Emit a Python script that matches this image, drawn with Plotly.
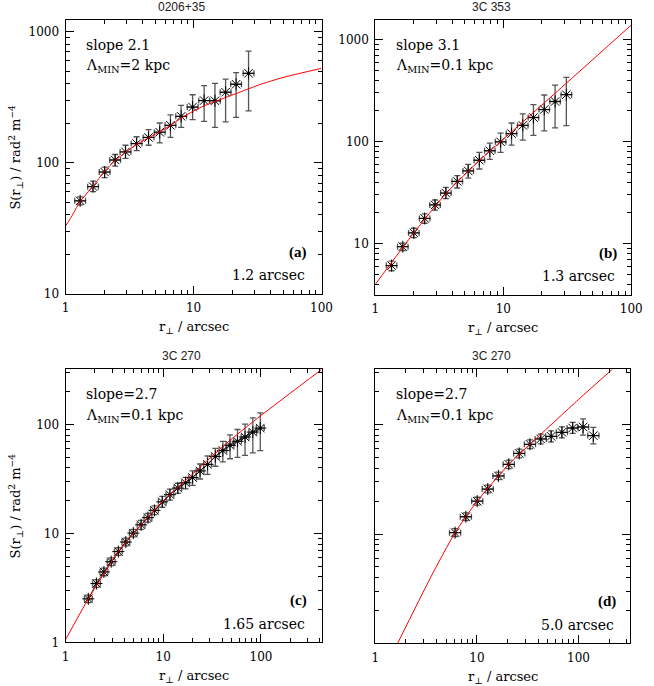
import math
import plotly.graph_objects as go

W, H = 654, 686

# ---------------- data ----------------
# (a) 0206+35
r_a = [1.30, 1.64, 2.02, 2.44, 2.94, 3.59, 4.45, 5.44, 6.6, 8.0, 9.83, 12.1, 14.7, 17.8, 21.5, 26.9]
S_a = [51.3, 65.8, 85, 105, 121, 140, 156, 171, 193, 226, 266, 298, 297, 345, 397, 481]
S_a_hi = [55, 72.6, 92.7, 115.7, 136, 158, 179, 201, 232, 274, 330, 388, 403, 435, 486, 710]
S_a_lo = [47.8, 60.3, 77, 94.4, 108, 124, 136, 142, 156, 186, 213, 207, 186, 205, 222, 249]
model_r_a = [1, 1.09, 1.3, 1.64, 2.02, 2.44, 2.94, 3.59, 4.45, 5.44, 6.6, 8.0, 9.83, 12.1, 14.7, 21.5, 33.6, 50, 100]
model_S_a = [33, 37.5, 50.7, 66.2, 86.5, 104, 120, 138, 155, 172, 193, 219, 246, 272, 293, 337, 397, 447, 525]

# (b) 3C 353
r_b = [1.34, 1.64, 2.0, 2.43, 2.93, 3.56, 4.37, 5.32, 6.5, 7.85, 9.53, 11.6, 14.2, 17.2, 20.9, 25.4, 31.1]
S_b = [6.07, 9.3, 12.7, 17.6, 23.9, 31.2, 40.6, 51.5, 65.5, 81.2, 99.3, 119.6, 144, 172, 206, 247, 288]
S_b_hi = [6.7, 10.1, 14.1, 19.5, 26.7, 35.5, 46.4, 59.8, 78.2, 96.3, 121, 152, 187, 230, 286, 357, 425]
S_b_lo = [5.4, 8.5, 11.4, 15.8, 21.2, 27.6, 35, 43.8, 53.8, 66.8, 78.2, 92, 103, 115, 127, 136, 143]
model_r_b = [1, 2.0, 3.6, 6.5, 9.5, 32, 100]
model_S_b = [3.97, 12.7, 31.3, 65, 99.4, 385, 1390]

# (c) 3C 270, 1.65 arcsec
r_c = [1.71, 2.07, 2.47, 2.93, 3.47, 4.14, 4.94, 5.93, 6.97, 8.13, 9.77, 11.7,
       14.1, 16.9, 19.95, 23.8, 28.4, 34.1, 40.7, 48.2, 57.5, 68.7, 82.5, 98.4]
S_c = [2.51, 3.47, 4.43, 5.5, 6.82, 8.34, 10.07, 12.0, 13.97, 16.3, 19.5, 22.7,
       26.1, 29.2, 32.6, 37.5, 43.1, 50.9, 57.7, 64.5, 70.2, 76.8, 85.2, 92.7]
S_c_hi = [2.72, 3.76, 4.80, 5.96, 7.39, 9.04, 10.9, 13.2, 15.3, 17.9, 21.9, 25.5,
          28.9, 32.7, 37.6, 43.4, 51.4, 60.4, 70.0, 80.5, 90.0, 101, 115, 127.7]
S_c_lo = [2.32, 3.20, 4.09, 5.07, 6.29, 7.69, 9.29, 10.9, 12.7, 14.9, 17.4, 20.2,
          23.3, 25.7, 27.6, 31.6, 34.8, 41.4, 45.4, 48.5, 50.0, 52.0, 55.0, 57.7]
model_r_c = [1, 1.71, 3.47, 5.93, 9.77, 23.8, 48.2, 100, 417]
model_S_c = [1.06, 2.51, 6.82, 12.0, 19.5, 40.5, 71.6, 121, 320]

# (d) 3C 270, 5.0 arcsec
r_d = [6.1, 7.79, 10.07, 12.8, 16.3, 20.6, 26.1, 33.3, 42.5, 53.8, 68.7, 87.6, 111, 140]
S_d = [10.3, 14.4, 20.0, 25.8, 34.0, 43.4, 54.6, 66.2, 74.1, 78.3, 85.2, 93.3, 95.3, 79.5]
S_d_hi = [11.2, 15.6, 21.7, 28.0, 36.9, 47.4, 59.8, 72.6, 82.2, 87.9, 95.6, 105, 113, 94.5]
S_d_lo = [9.5, 13.3, 18.4, 23.8, 31.4, 39.6, 49.8, 60.4, 66.8, 69.8, 75.9, 83.2, 80.4, 66.8]
model_r_d = [1.65, 3.5, 6.1, 10.07, 20.6, 33.3, 100, 214]
model_S_d = [0.99, 4.0, 10.3, 20.0, 43.4, 66.2, 170, 320]

titles = ["0206+35", "3C 353", "3C 270", "3C 270"]
slope_txt = ["slope 2.1", "slope 3.1", "slope=2.7", "slope=2.7"]
lam_txt = ["2 kpc", "0.1 kpc", "0.1 kpc", "0.1 kpc"]
tags = ["(a)", "(b)", "(c)", "(d)"]
res_txt = ["1.2 arcsec", "1.3 arcsec", "1.65 arcsec", "5.0 arcsec"]

# ---------------- layout geometry (pixels) ----------------
panels = [
    dict(x0=63, x1=325, y0=20, y1=297, xr=[0, 2.0], yr=[1, 3.09], xerr=0.042, ylab=True),
    dict(x0=380, x1=642, y0=20, y1=298, xr=[0, 2.0], yr=[0.495, 3.194], xerr=0.041, ylab=True),
    dict(x0=63, x1=325, y0=373, y1=649, xr=[0, 2.62], yr=[0, 2.508], xerr=0.040, ylab=True),
    dict(x0=380, x1=641, y0=373, y1=650, xr=[0, 2.51], yr=[0, 2.508], xerr=0.055, ylab=False),
]
data = [
    (r_a, S_a, S_a_hi, S_a_lo, model_r_a, model_S_a),
    (r_b, S_b, S_b_hi, S_b_lo, model_r_b, model_S_b),
    (r_c, S_c, S_c_hi, S_c_lo, model_r_c, model_S_c),
    (r_d, S_d, S_d_hi, S_d_lo, model_r_d, model_S_d),
]


def fx(px):
    return px / W


def fy(py):
    return 1 - py / H


def minor_vals(rng):
    lo, hi = math.floor(rng[0]), math.ceil(rng[1])
    return [m * 10 ** k for k in range(lo, hi + 1) for m in range(2, 10)]


SERIF = "DejaVu Serif"
fig = go.Figure()
ann = []
layout = dict(width=W, height=H, margin=dict(l=0, r=0, t=0, b=0),
              paper_bgcolor="white", plot_bgcolor="white", showlegend=False)


def A(**kw):
    kw.setdefault("xref", "paper")
    kw.setdefault("yref", "paper")
    kw.setdefault("showarrow", False)
    kw.setdefault("yanchor", "middle")
    ann.append(kw)


for i, (p, d) in enumerate(zip(panels, data)):
    n = "" if i == 0 else str(i + 1)
    xa, ya = "x" + n, "y" + n
    r, S, hi, lo, mr, ms = d
    ex_p = [v * (10 ** p["xerr"] - 1) for v in r]
    ex_m = [v * (1 - 10 ** (-p["xerr"])) for v in r]
    ey_p = [h - s for h, s in zip(hi, S)]
    ey_m = [s - l for s, l in zip(S, lo)]
    fig.add_trace(go.Scatter(
        x=r, y=S, xaxis=xa, yaxis=ya,
        mode="lines+markers" if i == 2 else "markers",
        line=dict(color="black", width=0.8),
        marker=dict(symbol="asterisk-open", size=10, color="black",
                    line=dict(color="black", width=1)),
        error_y=dict(type="data", array=ey_p, arrayminus=ey_m, color="#555",
                     thickness=1.3, width=3),
        error_x=dict(type="data", array=ex_p, arrayminus=ex_m, color="#555",
                     thickness=1.3, width=3),
    ))
    fig.add_trace(go.Scatter(x=r, y=S, xaxis=xa, yaxis=ya, mode="markers",
                             marker=dict(symbol="circle", size=3, color="black")))
    fig.add_trace(go.Scatter(x=mr, y=ms, xaxis=xa, yaxis=ya, mode="lines",
                             line=dict(color="red", width=1, shape="spline", smoothing=0.6)))

    common = dict(type="log", showline=True, linecolor="black", linewidth=1,
                  mirror="allticks", ticks="inside", ticklen=8, tickcolor="black",
                  showgrid=False, zeroline=False, dtick=1, exponentformat="none",
                  tickfont=dict(family=SERIF, size=12, color="black"))
    layout["xaxis" + n] = dict(common, domain=[fx(p["x0"]), fx(p["x1"])], range=p["xr"],
                               anchor=ya, ticklabelstandoff=3,
                               minor=dict(ticks="inside", ticklen=4, tickcolor="black",
                                          tickmode="array", tickvals=minor_vals(p["xr"]),
                                          showgrid=False))
    layout["yaxis" + n] = dict(common, domain=[fy(p["y1"]), fy(p["y0"])], range=p["yr"],
                               anchor=xa, showticklabels=p["ylab"], ticklabelstandoff=3,
                               minor=dict(ticks="inside", ticklen=4, tickcolor="black",
                                          tickmode="array", tickvals=minor_vals(p["yr"]),
                                          showgrid=False))

    cx = (p["x0"] + p["x1"]) / 2
    A(x=fx(cx - 12), y=fy(p["y0"] - 13), text=titles[i], xanchor="center",
      font=dict(family="Liberation Sans", size=12, color="#222"))
    tx = p["x0"] + 19
    A(x=fx(tx), y=fy(p["y0"] + 25), text=slope_txt[i], xanchor="left",
      font=dict(family=SERIF, size=14, color="black"))
    A(x=fx(tx), y=fy(p["y0"] + 47), text="Λ<sub>MIN</sub>=" + lam_txt[i], xanchor="left",
      font=dict(family=SERIF, size=14, color="black"))
    A(x=fx(p["x1"] - 13), y=fy(p["y1"] - 42), text="<b>" + tags[i] + "</b>", xanchor="right",
      font=dict(family="Liberation Serif", size=15, color="black"))
    A(x=fx(p["x1"] - 15), y=fy(p["y1"] - 19), text=res_txt[i], xanchor="right",
      font=dict(family=SERIF, size=14, color="black"))
    A(x=fx(cx), y=fy(p["y1"] + 34), text="r<sub>⊥</sub> / arcsec", xanchor="center",
      font=dict(family=SERIF, size=13, color="black"))
    if i in (0, 2):
        A(x=fx(12), y=fy((p["y0"] + p["y1"]) / 2),
          text="S(r<sub>⊥</sub>) / rad<sup>2</sup> m<sup>−4</sup>",
          textangle=-90, xanchor="center",
          font=dict(family=SERIF, size=13, color="black"))

layout["annotations"] = ann
fig.update_layout(**layout)
fig.write_html("out.html", config={"displayModeBar": False},
               post_script="document.body.style.margin='0';")
